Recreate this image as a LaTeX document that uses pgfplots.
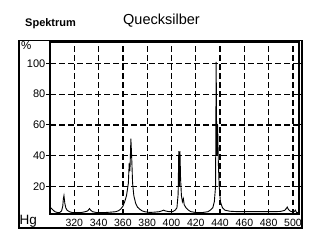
\documentclass[border=0pt]{standalone}
\usepackage{pgfplots}
\pgfplotsset{compat=1.18}
\usepackage{fontspec}
\setmainfont{Liberation Sans}
\begin{document}
\begin{tikzpicture}
\useasboundingbox (0pt,0pt) rectangle (320pt,240pt);
\draw[line width=1.3pt] (19pt,12pt) rectangle (302pt,199.5pt);
\node[anchor=base west, inner sep=0pt, font=\fontsize{11}{12}\selectfont\bfseries] at (25pt,213.5pt) {Spektrum};
\node[anchor=base west, inner sep=0pt, font=\fontsize{14.5}{16}\selectfont] at (123pt,215pt) {Quecksilber};
\node[anchor=base west, inner sep=0pt, font=\fontsize{11.5}{12}\selectfont] at (21pt,190pt) {\%};
\node[anchor=base west, inner sep=0pt, font=\fontsize{13.5}{14}\selectfont] at (19.5pt,15.5pt) {Hg};
\begin{axis}[
  at={(50pt,26pt)}, anchor=south west, scale only axis,
  width=249pt, height=172pt,
  xmin=300, xmax=505, ymin=2, ymax=114,
  xtick={320,340,...,500}, ytick={20,40,...,100},
  grid=major,
  grid style={black, line width=1.3pt, dash pattern=on 5.5pt off 3.5pt},
  axis line style={black, line width=1.3pt},
  tick align=outside, major tick length=4pt,
  xtick style={draw=none},
  ytick style={black, line width=1pt},
  /pgf/number format/assume math mode=true,
  xticklabel style={font=\fontsize{10.5}{11}\selectfont, inner sep=1pt},
  yticklabel style={font=\fontsize{11}{11}\selectfont, inner sep=0.5pt},
]
\addplot[black, line width=0.9pt, mark=none] coordinates {
(300,6.5) (302,5) (304,3.5) (306,3) (308,3) (309.5,4) (310.5,7) (311,12) (311.5,14) (312.2,9) (313,6) (314,4.5) (316,3.5) (318,3) (322,3) (326,3) (329,3.5) (331,4) (332,5) (332.5,5.5) (333.5,4.5) (335,3.5) (338,3) (342,3) (346,3) (350,3.2) (354,3.5) (356,4) (358,5) (360,7) (361.5,10) (363,14) (364.5,22) (365.2,35) (365.8,30) (366.6,51) (367.2,40) (368,22) (369,14) (370.5,9) (372,6.5) (374,5) (376,4) (378,3.5) (382,3) (386,3.2) (390,3.5) (392,4) (393.5,4.5) (395,4) (398,3.5) (401,3.5) (403,4.5) (404.5,6) (405.5,15) (406,43) (406.5,20) (407,43) (407.5,25) (408.2,14) (409,10) (409.8,12) (410.5,8) (412,6) (414,4.5) (416,3.5) (420,3) (426,3) (430,3.5) (432,4.5) (434,6) (435.3,10) (436.3,20) (436.8,101) (437.3,40) (438,60) (438.6,35) (439.3,20) (440.3,10) (442,6) (444,4.5) (448,3.8) (455,3.5) (465,3.5) (475,3.5) (485,3.5) (490,3.7) (493,4.3) (494.5,5.5) (495.3,6.5) (496.2,5) (497.5,4) (499,3.5) (501,3.5) (502,4.5) (503,3) (505,3)
};
\end{axis}
\end{tikzpicture}
\end{document}
